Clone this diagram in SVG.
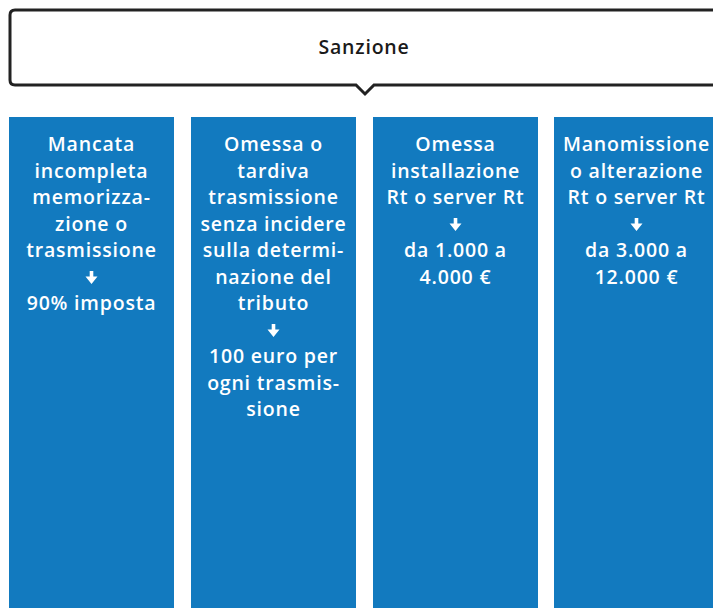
<svg xmlns="http://www.w3.org/2000/svg" width="713" height="608" viewBox="0 0 713 608">
<style>
.col{fill:#127ABF}
.t{font-family:"Open Sans","Liberation Sans",sans-serif;font-weight:600;font-size:19.5px;fill:#fff;text-anchor:middle;letter-spacing:0.8px}
.h{font-family:"Open Sans","Liberation Sans",sans-serif;font-weight:600;font-size:19.5px;fill:#1a1a1a;text-anchor:middle;letter-spacing:0.8px}
.ar{fill:#fff}
</style>
<defs>
<path id="arr" d="M-1.8,0 H1.8 V5.5 H6 L0,13 L-6,5.5 H-1.8 Z"/>
</defs>
<g id="header">
<path d="M10,15 Q10,10 15,10 L730,10 L730,85 L374,85 L365,94 L356,85 L15,85 Q10,85 10,80 Z" fill="#fff" stroke="#222" stroke-width="3" stroke-linejoin="miter"/>
<text class="h" x="364" y="54">Sanzione</text>
</g>
<g id="col1">
<rect class="col" x="9" y="117" width="165" height="491"/>
<text class="t" x="91.5" y="151">Mancata</text>
<text class="t" x="91.5" y="177.5">incompleta</text>
<text class="t" x="91.5" y="204">memorizza-</text>
<text class="t" x="91.5" y="230.5">zione o</text>
<text class="t" x="91.5" y="257">trasmissione</text>
<use href="#arr" class="ar" x="91.5" y="271"/>
<text class="t" x="91.5" y="310">90% imposta</text>
</g>
<g id="col2">
<rect class="col" x="191" y="117" width="165" height="491"/>
<text class="t" x="273.5" y="151">Omessa o</text>
<text class="t" x="273.5" y="177.5">tardiva</text>
<text class="t" x="273.5" y="204">trasmissione</text>
<text class="t" x="273.5" y="230.5">senza incidere</text>
<text class="t" x="273.5" y="257">sulla determi-</text>
<text class="t" x="273.5" y="283.5">nazione del</text>
<text class="t" x="273.5" y="310">tributo</text>
<use href="#arr" class="ar" x="273.5" y="324"/>
<text class="t" x="273.5" y="363">100 euro per</text>
<text class="t" x="273.5" y="389.5">ogni trasmis-</text>
<text class="t" x="273.5" y="416">sione</text>
</g>
<g id="col3">
<rect class="col" x="373" y="117" width="165" height="491"/>
<text class="t" x="455.5" y="151">Omessa</text>
<text class="t" x="455.5" y="177.5">installazione</text>
<text class="t" x="455.5" y="204">Rt o server Rt</text>
<use href="#arr" class="ar" x="455.5" y="218"/>
<text class="t" x="455.5" y="257">da 1.000 a</text>
<text class="t" x="455.5" y="283.5">4.000 €</text>
</g>
<g id="col4">
<rect class="col" x="554" y="117" width="170" height="491"/>
<text class="t" x="636.5" y="151">Manomissione</text>
<text class="t" x="636.5" y="177.5">o alterazione</text>
<text class="t" x="636.5" y="204">Rt o server Rt</text>
<use href="#arr" class="ar" x="636.5" y="218"/>
<text class="t" x="636.5" y="257">da 3.000 a</text>
<text class="t" x="636.5" y="283.5">12.000 €</text>
</g>
<g id="connectors"></g>
</svg>
